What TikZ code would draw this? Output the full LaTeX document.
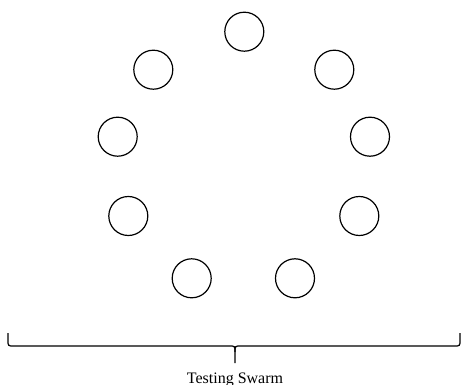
\documentclass[tikz,border=0pt]{standalone}
\usepackage{fontspec}
\setmainfont{Liberation Serif}
\begin{document}
\begin{tikzpicture}[x=1pt,y=-1pt,
  agent/.style={draw,circle,minimum size=39pt,inner sep=0pt,line width=1.2pt},
  bracepath/.style={draw,line width=1.2pt}]
\useasboundingbox (0,0) rectangle (461,385);
\node[agent] (a1) at (244.3,31.7) {};
\node[agent] (a2) at (153.3,69.7) {};
\node[agent] (a3) at (334.3,69.7) {};
\node[agent] (a4) at (117.7,136.7) {};
\node[agent] (a5) at (370,136.7) {};
\node[agent] (a6) at (128.3,216) {};
\node[agent] (a7) at (359.3,216) {};
\node[agent] (a8) at (191.7,278.3) {};
\node[agent] (a9) at (295,278.3) {};
\coordinate (bl) at (8,333);
\coordinate (br) at (460,333);
\coordinate (bt) at (235,363);
\path[bracepath] (bl) -- (8,340) .. controls (8,346) .. (14,346) -- (229,346) .. controls (235,346) .. (235,352) -- (bt);
\path[bracepath] (br) -- (460,340) .. controls (460,346) .. (454,346) -- (241,346) .. controls (235,346) .. (235,352);
\node[anchor=base,inner sep=0pt,font=\fontsize{16}{19}\selectfont] (lbl) at (235,383) {Testing Swarm};
\end{tikzpicture}
\end{document}
